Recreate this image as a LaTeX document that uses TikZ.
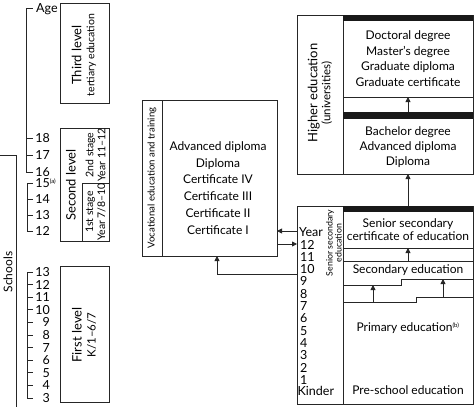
\documentclass[tikz,border=0pt]{standalone}
\usepackage{fontspec}
\setmainfont{Lato}
\usetikzlibrary{arrows.meta}
\begin{document}
\begin{tikzpicture}[x=1pt,y=-1pt,
  box/.style={draw=black!85, line width=0.8pt},
  arr/.style={-{Triangle[length=5pt,width=5pt]}, line width=0.8pt, draw=black!85},
  txt/.style={inner sep=0pt, align=center, font=\fontsize{12}{16}\selectfont},
  age/.style={anchor=east, inner sep=0pt, font=\fontsize{12.5}{12}\selectfont},
  yr/.style={anchor=west, inner sep=0pt, font=\fontsize{12.5}{12}\selectfont},
  rot/.style={rotate=90, inner sep=0pt, align=center},
  bar/.style={fill=black!90}]
\useasboundingbox (0,0) rectangle (474,407);

% ---- Schools box (left)
\draw[box] (-5,155) -| (16,410);
\node[rot, font=\fontsize{12}{12}\selectfont] (schools) at (8,272) {Schools};

% ---- Age bracket 1
\draw[box] (26,8) -- (26,172);
\foreach \yy in {8,138,155,172} \draw[box] (26,\yy) -- (33,\yy);
\node[anchor=west, inner sep=0pt, font=\fontsize{12.5}{12}\selectfont] (agelab) at (36,9) {Age};
\node[age] (a18) at (50,138) {18};
\node[age] (a17) at (50,155) {17};
\node[age] (a16) at (50,172) {16};

% ---- Age bracket 2
\draw[box] (27,183) -- (27,231);
\foreach \yy in {183,199,215,231} \draw[box] (27,\yy) -- (33,\yy);
\node[age] (a15) at (50,183) {15\rlap{\textsuperscript{\fontsize{6}{6}\selectfont(a)}}};
\node[age] (a14) at (50,199) {14};
\node[age] (a13) at (50,215) {13};
\node[age] (a12) at (50,231) {12};

% ---- Age bracket 3
\draw[box] (27,272) -- (27,398);
\foreach \n [count=\i from 0] in {13,12,11,10,9,8,7,6,5,4,3}{
  \pgfmathsetmacro{\yy}{272+\i*12.6}
  \draw[box] (27,\yy) -- (33,\yy);
  \node[age] (b\n) at (50,\yy) {\n};
}

% ---- Third level
\draw[box] (60,3) rectangle (109,103);
\node[rot] (third) at (84,55) {{\fontsize{13}{14}\selectfont Third level}\\[1pt]{\fontsize{10.5}{11}\selectfont tertiary education}};

% ---- Second level
\draw[box] (60,128) rectangle (109,241);
\draw[box] (82,183) -- (82,241);
\draw[box] (82,183) -- (109,183);
\node[rot, font=\fontsize{13}{14}\selectfont] (second) at (71,185) {Second level};
\node[rot, font=\fontsize{10.5}{12}\selectfont] (stage2) at (95.5,155) {2nd stage\\Year 11--12};
\node[rot, font=\fontsize{10.5}{12}\selectfont] (stage1) at (95.5,212) {1st stage\\Year 7/8--10};

% ---- First level
\draw[box] (60,266) rectangle (109,402);
\node[rot] (first) at (84,335) {{\fontsize{13}{14}\selectfont First level}\\[2pt]{\fontsize{11.5}{12}\selectfont K/1--6/7}};

% ---- Vocational
\draw[box] (142,100) rectangle (277,256);
\draw[box] (162,100) -- (162,256);
\node[rot, font=\fontsize{9.6}{10}\selectfont] (vetlab) at (152,178) {Vocational education and training};
\node[txt, font=\fontsize{12}{16.8}\selectfont] (vet) at (218,188) {Advanced diploma\\Diploma\\Certificate IV\\Certificate III\\Certificate II\\Certificate I};

% ---- Higher education
\draw[box] (297,15) rectangle (473,174);
\draw[box] (343,15) -- (343,174);
\fill[bar] (343,15) rectangle (473,21);
\node[rot] (helab) at (320,93) {{\fontsize{13}{14}\selectfont Higher education}\\[1pt]{\fontsize{11.5}{12}\selectfont (universities)}};
\node[txt, font=\fontsize{12}{15.6}\selectfont] (grad) at (408,58.5) {Doctoral degree\\Master's degree\\Graduate diploma\\Graduate certificate};
\draw[box] (343,97) -- (473,97);
\fill[bar] (343,112) rectangle (473,119);
\node[txt, font=\fontsize{12}{15}\selectfont] (bach) at (408,147) {Bachelor degree\\Advanced diploma\\Diploma};
\coordinate (gradbot) at (408,97);
\coordinate (bachtop) at (408,112);
\coordinate (bachbot) at (408,174);
\coordinate (schtop) at (408,206);
\draw[arr] (bachtop) -- (gradbot);
\draw[arr] (schtop) -- (bachbot);

% ---- School box
\draw[box] (297,206) rectangle (473,404);
\draw[box] (343,206) -- (343,404);
\fill[bar] (343,206) rectangle (473,212);
\node[txt, font=\fontsize{12}{12.5}\selectfont] (ssce) at (408,229.5) {Senior secondary\\certificate of education};
\draw[box] (343,248) -- (473,248);
\draw[box] (343,261) -- (473,261);
\coordinate (sscebot) at (408,248);
\coordinate (sectop) at (408,261);
\draw[arr] (sectop) -- (sscebot);
\node[txt] (sec) at (408,270.5) {Secondary education};
\draw[box] (343,285) -- (401,285) -- (401,279) -- (473,279);
\draw[box] (343,302) -- (416,302) -- (416,297) -- (473,297);
\coordinate (s1a) at (373,302); \coordinate (s1b) at (373,285);
\coordinate (s2a) at (443,297); \coordinate (s2b) at (443,279);
\draw[arr] (s1a) -- (s1b);
\draw[arr] (s2a) -- (s2b);
\node[txt] (prim) at (408,328) {Primary education\textsuperscript{\fontsize{6}{6}\selectfont(b)}};
\node[txt] (pre) at (408,390) {Pre-school education};

\node[rot, font=\fontsize{8.8}{9}\selectfont] (sselab) at (334,243) {Senior secondary\\education};
\node[yr] (yyear) at (299,232) {Year};
\foreach \n [count=\i from 0] in {12,11,10,9,8,7,6,5,4,3,2,1}{
  \pgfmathsetmacro{\yy}{244.5+\i*12.3}
  \node[yr] (y\n) at (300,\yy) {\n};
}
\node[yr] (kinder) at (297.5,391) {Kinder};

% ---- connectors between vocational and school
\coordinate (v1) at (277,231); \coordinate (s1) at (297,231);
\coordinate (v2) at (277,244); \coordinate (s2) at (297,244);
\coordinate (s3) at (297,274); \coordinate (v3) at (217,256);
\draw[arr] (s1) -- (v1);
\draw[arr] (v2) -- (s2);
\draw[arr] (s3) -| (v3);
\end{tikzpicture}
\end{document}
